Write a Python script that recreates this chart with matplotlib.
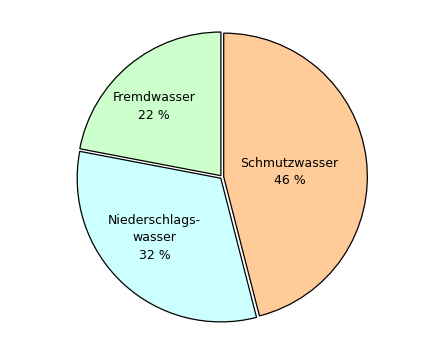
import matplotlib
matplotlib.use("Agg")
import matplotlib.pyplot as plt
import numpy as np

categories = ["Schmutzwasser", "Niederschlags-\nwasser", "Fremdwasser"]
values = [46, 32, 22]
colors = ["#FFCC99", "#CCFFFF", "#CCFFCC"]
explode = [0.012, 0.012, 0.012]
label_dist = [0.46, 0.62, 0.67]
label_shift = [-3.0, -5.0, 4.5]  # degrees offset from wedge mid-angle

fig = plt.figure(figsize=(4.27, 3.43), dpi=100)
ax = fig.add_axes([64/427, 8/343, 316/427, 316/343])
wedges, texts = ax.pie(values, colors=colors, explode=explode, startangle=90,
                       counterclock=False,
                       wedgeprops=dict(edgecolor="black", linewidth=0.9))
for w, name, v, d, s in zip(wedges, categories, values, label_dist, label_shift):
    ang = np.deg2rad((w.theta1 + w.theta2) / 2 + s)
    cx, cy = w.center
    ax.text(cx + d*np.cos(ang), cy + d*np.sin(ang), f"{name}\n{v} %",
            ha="center", va="center", fontsize=9, linespacing=1.45,
            family="DejaVu Sans")
ax.set_xlim(-1.1, 1.1)
ax.set_ylim(-1.1, 1.1)
ax.set_aspect("equal")
ax.axis("off")
fig.savefig("out.png", dpi=100)
